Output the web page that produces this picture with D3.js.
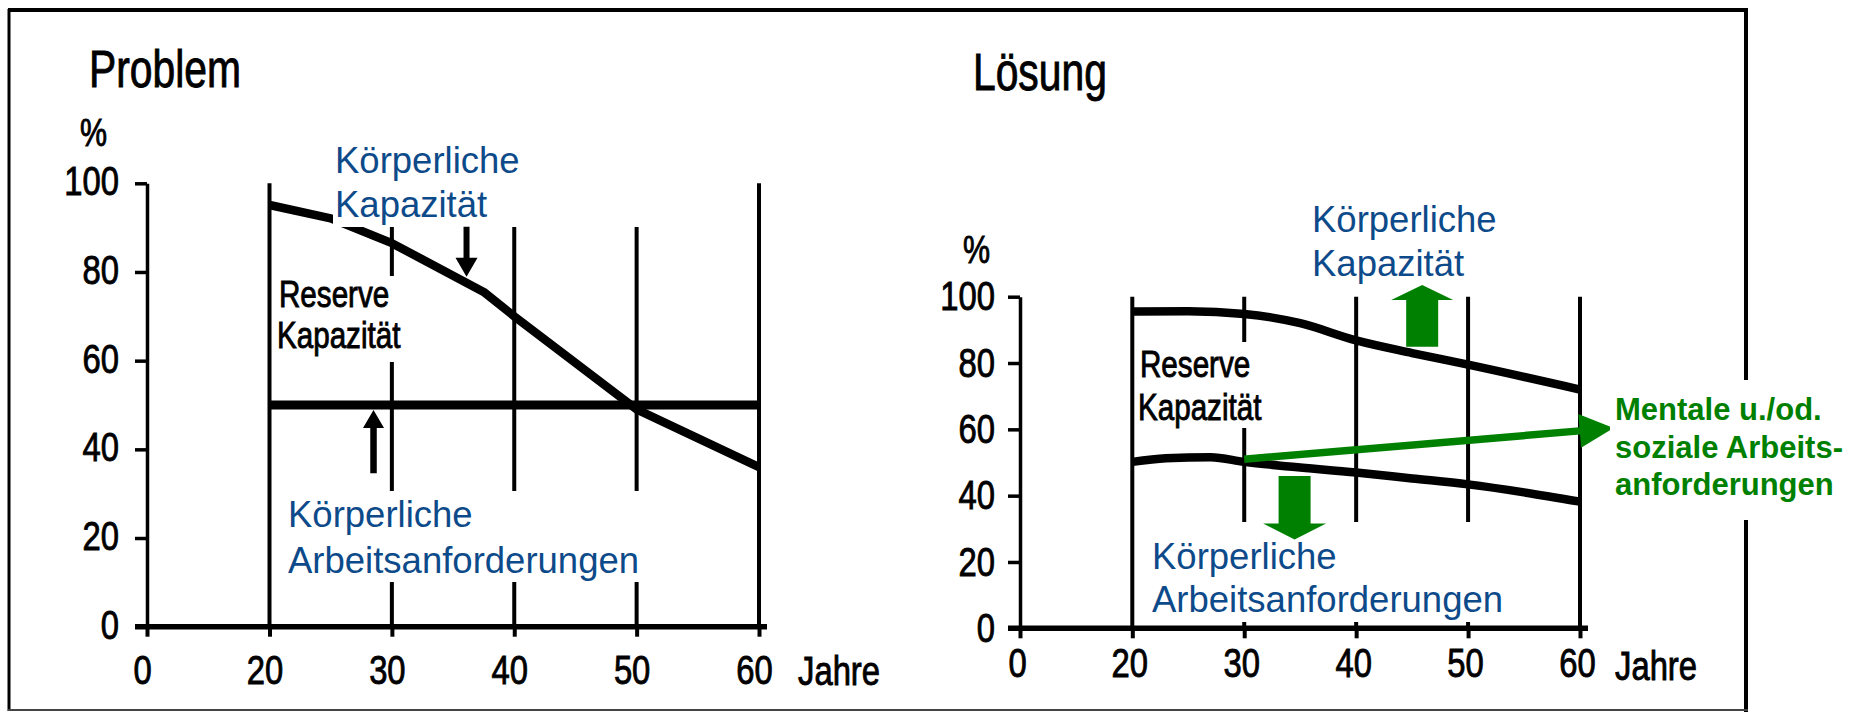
<!DOCTYPE html>
<html>
<head>
<meta charset="utf-8">
<script src="https://cdn.jsdelivr.net/npm/d3@7"></script>
<style>
  body { margin: 0; background: #fff; }
  svg { display: block; }
</style>
</head>
<body>
<div id="chart"></div>
<script>
// Values (age in years, capacity in %)
var xTicks = [0, 20, 30, 40, 50, 60];
var yTicks = [0, 20, 40, 60, 80, 100];

var problemCapYears  = [20, 25, 30, 37.5, 40, 50, 60];
var problemCapValues = [95.1, 92.1, 86.5, 75.5, 70, 49, 36];
var problemDemYears  = [20, 60];
var problemDemValues = [50, 50];

var solutionCapYears  = [20, 25, 30, 35, 40, 45, 50, 60];
var solutionCapValues = [95.5, 95.6, 94.8, 92, 86.8, 83, 79.5, 72];
var solutionDemYears  = [20, 23, 27, 30, 34, 40, 45, 50, 55, 60];
var solutionDemValues = [50.2, 51.3, 51.6, 50.2, 48.8, 47, 45.2, 43.4, 41, 38.2];

var mentalYears  = [30, 63];
var mentalValues = [51, 60.4];

var svgWidth = 1854;
var svgHeight = 714;

var FONT = "'Liberation Sans', Arial, Helvetica, sans-serif";
var BLUE = "#0d4a8a";
var GREEN = "#008000";

var svg = d3.select("#chart")
  .append("svg")
  .attr("width", svgWidth)
  .attr("height", svgHeight);

svg.append("rect")
  .attr("width", svgWidth)
  .attr("height", svgHeight)
  .attr("fill", "#fff");

// frame of the scanned page
var frame = svg.append("g").attr("stroke", "#000");
frame.append("line").attr("x1", 8).attr("x2", 1748).attr("y1", 10).attr("y2", 10).attr("stroke-width", 4);
frame.append("line").attr("x1", 9).attr("x2", 9).attr("y1", 9).attr("y2", 711).attr("stroke-width", 3);
frame.append("line").attr("x1", 1746).attr("x2", 1746).attr("y1", 9).attr("y2", 712).attr("stroke-width", 4);
frame.append("line").attr("x1", 8).attr("x2", 1748).attr("y1", 710).attr("y2", 710)
  .attr("stroke-width", 2).attr("stroke", "#444");

// condensed, slightly heavy look of the old typeset labels
function scanStyle(sel, size) {
  return sel
    .attr("font-family", FONT)
    .attr("font-size", size)
    .attr("fill", "#000")
    .attr("stroke", "#000")
    .attr("stroke-width", 0.9);
}

function scanText(g, x, y, size, txt) {
  return scanStyle(g.append("text"), size)
    .attr("transform", "translate(" + x + "," + y + ") scale(0.8,1)")
    .text(txt);
}

function lines(g, x, y, size, rows, color, weight, lead) {
  var t = g.append("text")
    .attr("font-family", FONT)
    .attr("font-size", size)
    .attr("font-weight", weight || "normal")
    .attr("fill", color);
  rows.forEach(function(r, i) {
    t.append("tspan").attr("x", x).attr("y", y + i * lead).text(r);
  });
  return t;
}

function arrowPath(x1, y1, x2, y2, shaft, head, headLen) {
  var dx = x2 - x1, dy = y2 - y1, len = Math.hypot(dx, dy);
  var ux = dx / len, uy = dy / len, nx = -uy, ny = ux;
  var bx = x2 - ux * headLen, by = y2 - uy * headLen;
  var pts = [
    [x1 + nx * shaft / 2, y1 + ny * shaft / 2],
    [bx + nx * shaft / 2, by + ny * shaft / 2],
    [bx + nx * head / 2, by + ny * head / 2],
    [x2, y2],
    [bx - nx * head / 2, by - ny * head / 2],
    [bx - nx * shaft / 2, by - ny * shaft / 2],
    [x1 - nx * shaft / 2, y1 - ny * shaft / 2]
  ];
  return "M" + pts.map(function(p) { return p.join(","); }).join("L") + "Z";
}

function drawPanel(p) {
  // the 0..20 stretch of the age axis is drawn shorter than the rest
  var x = d3.scaleLinear().domain([0, 20, 60]).range(p.xRange);
  var y = d3.scaleLinear().domain([0, 100]).range(p.yRange);
  var g = svg.append("g");
  var base = y(0);

  // vertical lines at every decade
  g.selectAll(".vline")
    .data(xTicks.slice(1))
    .enter().append("line")
    .attr("x1", function(d) { return x(d); })
    .attr("x2", function(d) { return x(d); })
    .attr("y1", y(100))
    .attr("y2", base)
    .attr("stroke", "#000")
    .attr("stroke-width", 4);

  var line = d3.line()
    .x(function(d) { return x(d[0]); })
    .y(function(d) { return y(d[1]); })
    .curve(p.curve);

  p.series.forEach(function(s) {
    g.append("path")
      .datum(d3.zip(s.years, s.values))
      .attr("d", line)
      .attr("fill", "none")
      .attr("stroke", "#000")
      .attr("stroke-width", s.width)
      .attr("stroke-linejoin", "round");
  });

  // white backgrounds of the pasted-on labels
  p.boxes.forEach(function(b) {
    g.append("rect").attr("x", b[0]).attr("y", b[1]).attr("width", b[2]).attr("height", b[3]).attr("fill", "#fff");
  });

  // y axis
  var leftAxis = d3.axisLeft(y).tickValues(yTicks).tickSize(12).tickSizeOuter(0);
  var ya = g.append("g")
    .attr("transform", "translate(" + x(0) + ",0)")
    .call(leftAxis);
  ya.select(".domain").attr("stroke-width", 3.5);
  ya.selectAll(".tick line").attr("stroke-width", 3.5);
  scanStyle(ya.selectAll(".tick text"), 41)
    .attr("x", 0)
    .attr("dy", p.yDy)
    .attr("transform", "translate(" + (-p.yPad) + ",0) scale(0.8,1)");

  // x axis: baseline plus short ticks under it
  g.append("line")
    .attr("x1", x(0) - 12).attr("x2", x(60) + 8)
    .attr("y1", base).attr("y2", base)
    .attr("stroke", "#000").attr("stroke-width", 5.5);

  var bottomAxis = d3.axisBottom(x).tickValues(xTicks).tickSize(10).tickFormat(d3.format("d"));
  var xa = g.append("g")
    .attr("transform", "translate(0," + base + ")")
    .call(bottomAxis);
  xa.select(".domain").remove();
  xa.selectAll(".tick line").attr("stroke-width", 4);
  scanStyle(xa.selectAll(".tick text"), 41)
    .attr("y", p.xPad)
    .attr("transform", "translate(" + p.xShift + ",0) scale(0.8,1)");

  scanText(g, p.jahre[0], p.jahre[1], 41, "Jahre");
  scanText(g, p.title[0], p.title[1], 51, p.titleText);
  scanText(g, p.pct[0], p.pct[1], 38, "%");
  scanText(g, p.reserve[0], p.reserve[1], 37, "Reserve");
  scanText(g, p.reserve[0] - 2, p.reserve[1] + p.reserve[2], 37, "Kapazität");

  lines(g, p.capLabel[0], p.capLabel[1], 36.5, ["Körperliche", "Kapazität"], BLUE, "normal", p.capLabel[2]);
  lines(g, p.demLabel[0], p.demLabel[1], 36.5, ["Körperliche", "Arbeitsanforderungen"], BLUE, "normal", p.demLabel[2]);

  p.arrows.forEach(function(a) {
    g.append("path")
      .attr("d", arrowPath(x(a.from[0]), y(a.from[1]), x(a.to[0]), y(a.to[1]), a.shaft, a.head, a.headLen))
      .attr("fill", a.color);
  });

  return { x: x, y: y, g: g };
}

// Problem
drawPanel({
  titleText: "Problem",
  xRange: [147, 269.5, 759],
  yRange: [626.7, 183.3],
  curve: d3.curveLinear,
  series: [
    { years: problemCapYears, values: problemCapValues, width: 8.5 },
    { years: problemDemYears, values: problemDemValues, width: 9 }
  ],
  boxes: [[333, 140, 367, 87], [275, 276, 140, 86], [283, 491, 417, 91]],
  yPad: 28, yDy: "0.28em",
  xPad: 28, xShift: -5,
  title: [89, 87], pct: [80, 146], jahre: [798, 685],
  reserve: [279, 306.7, 41.6],
  capLabel: [335, 173, 44],
  demLabel: [288, 527, 46],
  arrows: [
    { from: [36.1, 90.2], to: [36.1, 78.9], color: "#000", shaft: 6, head: 22, headLen: 19 },
    { from: [28.5, 34.6], to: [28.5, 48.9], color: "#000", shaft: 6.5, head: 21, headLen: 18 }
  ]
});

// Lösung
var sol = drawPanel({
  titleText: "Lösung",
  xRange: [1020, 1132.3, 1580],
  yRange: [628.3, 296.7],
  curve: d3.curveMonotoneX,
  series: [
    { years: solutionCapYears, values: solutionCapValues, width: 8.5 },
    { years: solutionDemYears, values: solutionDemValues, width: 8.5 }
  ],
  boxes: [[1136, 342, 146, 86], [1146, 522, 380, 100]],
  yPad: 25, yDy: "0.32em",
  xPad: 20, xShift: -3,
  title: [973, 90], pct: [963, 263], jahre: [1615, 680],
  reserve: [1140, 377, 43],
  capLabel: [1312, 232, 43.5],
  demLabel: [1152, 568.5, 43.5],
  arrows: [
    { from: [45.9, 84.9], to: [45.9, 103.5], color: GREEN, shaft: 32, head: 62, headLen: 15 },
    { from: [34.5, 45.9], to: [34.5, 26.8], color: GREEN, shaft: 32, head: 63, headLen: 16 }
  ]
});

// mental / social demands: green arrow and its label
sol.g.append("path")
  .attr("d", arrowPath(sol.x(mentalYears[0]), sol.y(mentalValues[0]),
                       sol.x(mentalYears[1]), sol.y(mentalValues[1]), 7.5, 34, 34))
  .attr("fill", GREEN);

sol.g.append("rect").attr("x", 1610).attr("y", 380).attr("width", 244).attr("height", 140).attr("fill", "#fff");
lines(sol.g, 1615, 420, 31, ["Mentale u./od.", "soziale Arbeits-", "anforderungen"], GREEN, "bold", 37.5);
</script>
</body>
</html>
